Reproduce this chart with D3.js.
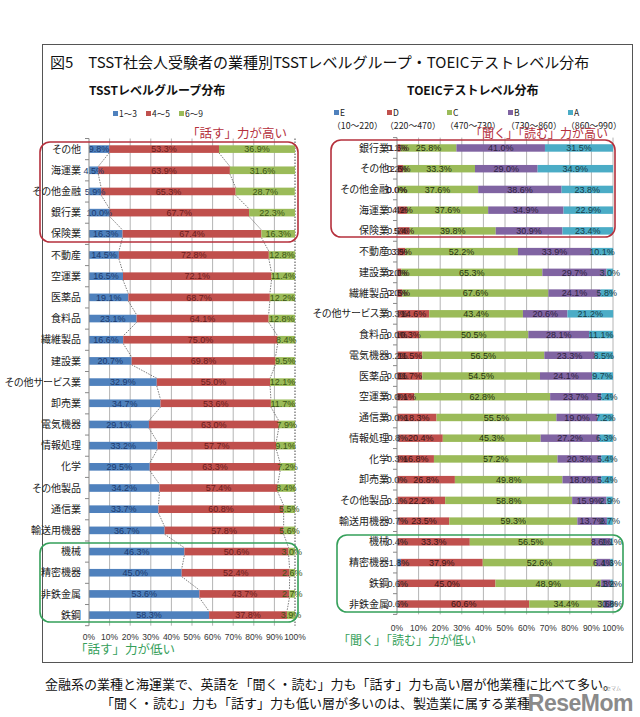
<!DOCTYPE html>
<html><head><meta charset="utf-8">
<script src="https://cdn.jsdelivr.net/npm/d3@7"></script>
<style>body{margin:0;background:#fff;} svg{display:block;font-family:"Noto Sans CJK JP","Noto Sans",sans-serif;} .pal{font-feature-settings:"palt";}</style>
</head><body><svg id="c" width="640" height="717"></svg>
<script>
// ---------- data ----------
const tsstCategories = ["その他","海運業","その他金融","銀行業","保険業","不動産","空運業","医薬品","食料品","繊維製品","建設業","その他サービス業","卸売業","電気機器","情報処理","化学","その他製品","通信業","輸送用機器","機械","精密機器","非鉄金属","鉄鋼"];
const tsstLevel1to3 = [9.8,4.5,5.9,10.0,16.3,14.5,16.5,19.1,23.1,16.6,20.7,32.9,34.7,29.1,33.2,29.5,34.2,33.7,36.7,46.3,45.0,53.6,58.3];
const tsstLevel4to5 = [53.3,63.9,65.3,67.7,67.4,72.8,72.1,68.7,64.1,75.0,69.8,55.0,53.6,63.0,57.7,63.3,57.4,60.8,57.8,50.6,52.4,43.7,37.8];
const tsstLevel6to9 = [36.9,31.6,28.7,22.3,16.3,12.8,11.4,12.2,12.8,8.4,9.5,12.1,11.7,7.9,9.1,7.2,8.4,5.5,5.6,3.0,2.6,2.7,3.9];
const tsstLegend = ["1〜3","4〜5","6〜9"];

const toeicCategories = ["銀行業","その他","その他金融","海運業","保険業","不動産","建設業","繊維製品","その他サービス業","食料品","電気機器","医薬品","空運業","通信業","情報処理","化学","卸売業","その他製品","輸送用機器","機械","精密機器","鉄鋼","非鉄金属"];
const toeicE = [0.1,0.2,0.0,0.4,0.5,0.3,0.0,0.0,0.3,0.0,0.2,0.0,0.0,0.0,0.8,0.3,0.0,0.1,0.7,0.4,1.8,0.6,0.6];
const toeicD = [1.6,2.6,0.0,4.2,5.4,3.5,2.0,2.5,14.6,10.3,11.5,11.7,8.1,18.3,20.4,16.8,26.8,22.2,23.5,33.3,37.9,45.0,60.6];
const toeicC = [25.8,33.3,37.6,37.6,39.8,52.2,65.3,67.6,43.4,50.5,56.5,54.5,62.8,55.5,45.3,57.2,49.8,58.8,59.3,56.5,52.6,48.9,34.4];
const toeicB = [41.0,29.0,38.6,34.9,30.9,33.9,29.7,24.1,20.6,28.1,23.3,24.1,23.7,19.0,27.2,20.3,18.0,15.9,13.7,8.6,6.4,4.3,3.6];
const toeicA = [31.5,34.9,23.8,22.9,23.4,10.1,3.0,5.8,21.2,11.1,8.5,9.7,5.4,7.2,6.3,5.4,5.4,2.9,2.7,1.1,1.3,1.2,0.8];
const toeicLegendKeys = ["E","D","C","B","A"];
const toeicLegendRanges = ["（10〜220）","（220〜470）","（470〜730）","（730〜860）","（860〜990）"];

const percentTicks = [0,10,20,30,40,50,60,70,80,90,100];

const titleText = "図5　TSST社会人受験者の業種別TSSTレベルグループ・TOEICテストレベル分布";
const leftSubtitle = "TSSTレベルグループ分布";
const rightSubtitle = "TOEICテストレベル分布";
const noteSpeakHigh = "「話す」力が高い";
const noteSpeakLow = "「話す」力が低い";
const noteReadHigh = "「聞く」「読む」力が高い";
const noteReadLow = "「聞く」「読む」力が低い";
const captionLines = ["金融系の業種と海運業で、英語を「聞く・読む」力も「話す」力も高い層が他業種に比べて多い。","「聞く・読む」力も「話す」力も低い層が多いのは、製造業に属する業種"];

// ---------- drawing ----------
const svg = d3.select("#c");
const fmt = v => d3.format(".1f")(v) + "%";
const RED = "#b5303c", GREEN = "#35a05a";

// outer frame
svg.append("rect").attr("x",42.5).attr("y",44.5).attr("width",590).attr("height",618)
  .attr("fill","none").attr("stroke","#555").attr("stroke-width",1);

svg.append("text").attr("x",50).attr("y",68).attr("font-size",15).attr("fill","#111").text(titleText);
svg.append("text").attr("x",89).attr("y",95).attr("font-size",12).attr("font-weight","bold").attr("fill","#111").text(leftSubtitle);
svg.append("text").attr("x",407).attr("y",95).attr("font-size",12).attr("font-weight","bold").attr("fill","#111").text(rightSubtitle);

function drawChart(opt){
  const g = svg.append("g");
  const x = d3.scaleLinear().domain([0,100]).range(opt.xr);
  const y = d3.scaleBand().domain(opt.cats).range(opt.yr).paddingInner(0.64).paddingOuter(0.32);
  // gridlines
  g.selectAll(".grid").data(percentTicks.slice(1)).join("line")
    .attr("x1",d=>x(d)).attr("x2",d=>x(d)).attr("y1",opt.yr[0]).attr("y2",opt.yr[1])
    .attr("stroke", d => (d===100 && opt.dotted100) ? "#444" : "#b4b4b4")
    .attr("stroke-dasharray", d => (d===100 && opt.dotted100) ? "1.5,1.5" : null)
    .attr("stroke-width",1);
  // stack
  const table = opt.cats.map((c,i)=>{ const o={cat:c}; opt.keys.forEach((k,j)=>o[k]=opt.series[j][i]); return o; });
  const stacked = d3.stack().keys(opt.keys)(table);
  // series lines
  if (opt.seriesLines){
    stacked.slice(0, stacked.length-1).forEach(layer=>{
      for (let i=0;i<layer.length-1;i++){
        const a = layer[i], b = layer[i+1];
        g.append("line")
          .attr("x1",x(a[1])).attr("y1",y(a.data.cat)+y.bandwidth())
          .attr("x2",x(b[1])).attr("y2",y(b.data.cat))
          .attr("stroke","#444").attr("stroke-width",0.7).attr("stroke-dasharray","1.5,1.2");
      }
    });
  }
  stacked.forEach((layer,j)=>{
    g.selectAll(null).data(layer).join("rect")
      .attr("x",d=>x(d[0])).attr("y",d=>y(d.data.cat))
      .attr("width",d=>Math.max(0,x(d[1])-x(d[0]))).attr("height",y.bandwidth())
      .attr("fill",opt.colors[j]);
  });
  stacked.forEach((layer,j)=>{
    g.selectAll(null).data(layer).join("text")
      .attr("x",d=>(x(d[0])+x(d[1]))/2).attr("y",d=>y(d.data.cat)+y.bandwidth()/2)
      .attr("dy","0.36em").attr("text-anchor","middle").attr("font-size",opt.labelSize)
      .attr("fill",opt.labelColors[j]).attr("font-family","'Liberation Sans',Arial,sans-serif")
      .text(d=>fmt(d[1]-d[0]));
  });
  // axis line and ticks
  g.append("line").attr("x1",x(0)).attr("x2",x(0)).attr("y1",opt.yr[0]).attr("y2",opt.yr[1]).attr("stroke","#888");
  const bounds = opt.cats.map(c=>y(c)-y.step()*y.paddingInner()/2).concat([opt.yr[1]]);
  g.selectAll(null).data(bounds).join("line")
    .attr("x1",x(0)-4).attr("x2",x(0)).attr("y1",d=>d).attr("y2",d=>d).attr("stroke","#888");
  // category labels
  g.selectAll(null).data(opt.cats).join("text").attr("class","pal")
    .attr("x",opt.catX).attr("y",d=>y(d)+y.bandwidth()/2).attr("dy","0.36em")
    .attr("text-anchor","end").attr("font-size",10).attr("fill","#222").text(d=>d);
  // x axis labels
  g.selectAll(null).data(percentTicks).join("text")
    .attr("x",d=>x(d)).attr("y",opt.axisY).attr("text-anchor","middle").attr("font-size",8.5)
    .attr("fill","#333").attr("font-family","'Liberation Sans',Arial,sans-serif").text(d=>d+"%");
  return {x,y};
}

drawChart({
  cats:tsstCategories, series:[tsstLevel1to3,tsstLevel4to5,tsstLevel6to9], keys:["a","b","c"],
  xr:[89,295], yr:[138.5,625.7], colors:["#4f81bd","#c0504d","#9bbb59"],
  labelColors:["#1c3a6e","#6a1c1c","#3b5514"], labelSize:9, seriesLines:true, dotted100:true,
  catX:81, axisY:640
});
drawChart({
  cats:toeicCategories, series:[toeicE,toeicD,toeicC,toeicB,toeicA], keys:["E","D","C","B","A"],
  xr:[397,613], yr:[137.6,614.4], colors:["#4f81bd","#c0504d","#9bbb59","#8064a2","#4bacc6"],
  labelColors:["#222","#3a1515","#26330f","#2e2240","#173c48"], labelSize:9, seriesLines:false, dotted100:false,
  catX:389, axisY:631
});

// legends
const tsstColors = ["#4f81bd","#c0504d","#9bbb59"];
const lg = svg.append("g");
lg.selectAll(null).data(tsstLegend).join("rect")
  .attr("x",(d,i)=>113+i*33).attr("y",111).attr("width",5).attr("height",5).attr("fill",(d,i)=>tsstColors[i]);
lg.selectAll(null).data(tsstLegend).join("text")
  .attr("x",(d,i)=>119+i*33).attr("y",117).attr("font-size",8.5).attr("fill","#222").text(d=>d);
const toeicColors = ["#4f81bd","#c0504d","#9bbb59","#8064a2","#4bacc6"];
const legX = [334,387,447,508,568];
lg.selectAll(null).data(toeicLegendKeys).join("rect")
  .attr("x",(d,i)=>legX[i]).attr("y",110).attr("width",5).attr("height",5).attr("fill",(d,i)=>toeicColors[i]);
lg.selectAll(null).data(toeicLegendKeys).join("text")
  .attr("x",(d,i)=>legX[i]+6).attr("y",116).attr("font-size",8.5).attr("fill","#222").text(d=>d);
lg.selectAll(null).data(toeicLegendRanges).join("text")
  .attr("x",(d,i)=>legX[i]-2).attr("y",129).attr("font-size",8.8).attr("fill","#222").text(d=>d);

// highlight boxes
function rbox(x0,y0,x1,y1,col){
  svg.append("rect").attr("x",x0).attr("y",y0).attr("width",x1-x0).attr("height",y1-y0)
    .attr("rx",10).attr("ry",10).attr("fill","none").attr("stroke",col).attr("stroke-width",1.6);
}
rbox(40,142,298,242,RED);
rbox(40,543,298,622,GREEN);
rbox(331,140,615,237,RED);
rbox(337,535,623,612,GREEN);

svg.append("text").attr("x",187).attr("y",138).attr("font-size",12.5).attr("fill",RED).text(noteSpeakHigh);
svg.append("text").attr("x",470).attr("y",138).attr("font-size",12).attr("fill",RED).text(noteReadHigh);
svg.append("text").attr("x",75).attr("y",654).attr("font-size",12.5).attr("fill",GREEN).text(noteSpeakLow);
svg.append("text").attr("x",338).attr("y",645).attr("font-size",12).attr("fill",GREEN).text(noteReadLow);

// caption
svg.append("text").attr("x",45).attr("y",689).attr("font-size",13).attr("fill","#111").text(captionLines[0]);
svg.append("text").attr("x",101).attr("y",708).attr("font-size",13).attr("fill","#111").text(captionLines[1]);
// logo
svg.append("text").attr("x",633).attr("y",711).attr("text-anchor","end").attr("font-size",23).attr("font-weight","bold")
  .attr("fill","#8a8a8a").attr("font-family","'Liberation Sans',Arial,sans-serif").attr("letter-spacing",-0.5).text("ReseMom");
svg.append("text").attr("x",611).attr("y",690).attr("text-anchor","middle").attr("font-size",5).attr("fill","#999").text("リセマム");
</script></body></html>
